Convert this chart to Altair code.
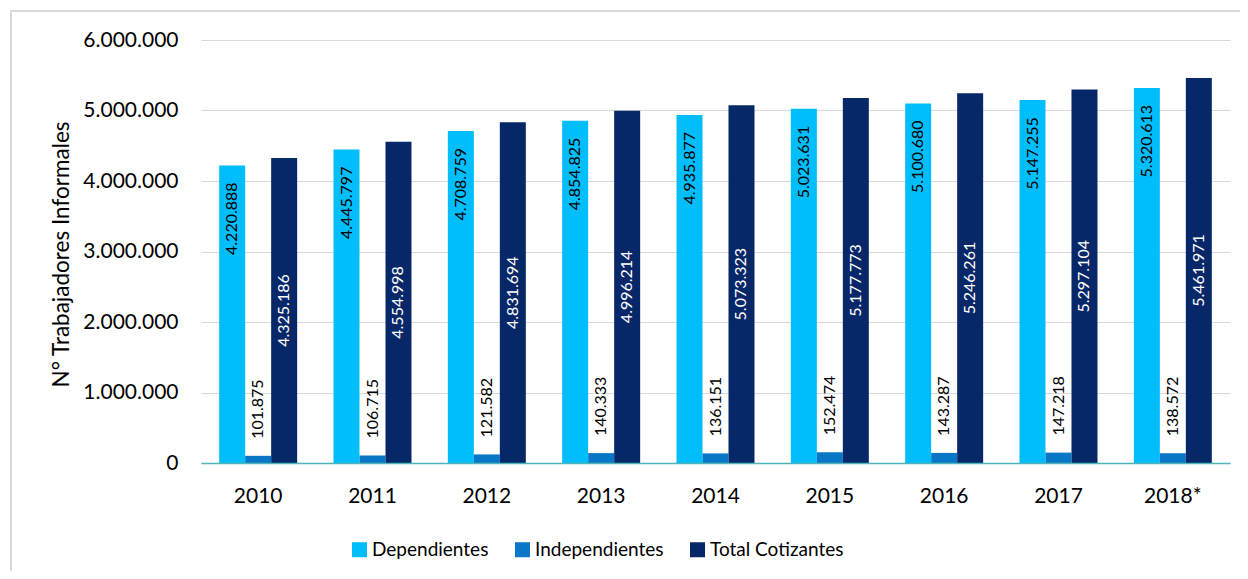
import altair as alt
import pandas as pd

years = ["2010", "2011", "2012", "2013", "2014", "2015", "2016", "2017", "2018*"]
dependientes = [4220888, 4445797, 4708759, 4854825, 4935877, 5023631, 5100680, 5147255, 5320613]
independientes = [101875, 106715, 121582, 140333, 136151, 152474, 143287, 147218, 138572]
total_cotizantes = [4325186, 4554998, 4831694, 4996214, 5073323, 5177773, 5246261, 5297104, 5461971]
series = ["Dependientes", "Independientes", "Total Cotizantes"]
colors = ["#00BDFB", "#0877C7", "#062768"]
y_ticks = [0, 1000000, 2000000, 3000000, 4000000, 5000000, 6000000]

rows = []
for i, yr in enumerate(years):
    for s, vals in zip(series, [dependientes, independientes, total_cotizantes]):
        rows.append({"anio": yr, "serie": s, "valor": vals[i]})
df = pd.DataFrame(rows)

FONT = "Lato"
W, H = 1029, 423

fmt = "replace(format(datum.valor, ','), regexp(',', 'g'), '.')"
base = alt.Chart(df).transform_calculate(label=fmt, mitad="datum.valor / 2")

x_enc = alt.X(
    "anio:N",
    sort=years,
    title=None,
    scale=alt.Scale(domain=years, paddingInner=0.318, paddingOuter=0.159),
    axis=alt.Axis(
        grid=False, ticks=False, domain=True, domainColor="#4FB3BA", domainWidth=1.5,
        labelAngle=0, labelPadding=22, labelFont=FONT, labelFontSize=21,
        labelColor="#000000", zindex=1,
    ),
)
xo_enc = alt.XOffset("serie:N", scale=alt.Scale(domain=series, paddingInner=0, paddingOuter=0))
y_scale = alt.Scale(domain=[0, 6000000], nice=False)
y_axis = alt.Axis(
    values=y_ticks,
    labelExpr="replace(format(datum.value, ','), regexp(',', 'g'), '.')",
    grid=True, gridColor="#D9D9D9", gridWidth=1, domain=False, ticks=False,
    labelPadding=23, labelFont=FONT, labelFontSize=21, labelColor="#000000",
    title="N° Trabajadores Informales", titleFont=FONT, titleFontSize=22.5,
    titleFontWeight="normal", titleColor="#000000",
    titleX=-140, titleY=214, titleAngle=270, titleAlign="center", titleBaseline="middle",
)

bars = base.mark_bar().encode(
    x=x_enc,
    xOffset=xo_enc,
    y=alt.Y("valor:Q", scale=y_scale, axis=y_axis),
    color=alt.Color(
        "serie:N",
        scale=alt.Scale(domain=series, range=colors),
        legend=alt.Legend(
            title=None, orient="none", legendX=149, legendY=500, direction="horizontal",
            symbolType="square", symbolSize=225, symbolStrokeWidth=0, padding=0,
            labelFont=FONT, labelFontSize=19, labelColor="#000000", labelOffset=3,
            columnPadding=24, labelLimit=300,
        ),
    ),
)

t_dep = base.transform_filter(alt.datum.serie == "Dependientes").mark_text(
    angle=270, align="right", baseline="middle", dx=-17, font=FONT, fontSize=16, color="#000000"
).encode(x=x_enc, xOffset=xo_enc, y=alt.Y("valor:Q", scale=y_scale, axis=y_axis), text="label:N")

t_ind = base.transform_filter(alt.datum.serie == "Independientes").mark_text(
    angle=270, align="left", baseline="middle", dx=17, font=FONT, fontSize=16, color="#000000"
).encode(x=x_enc, xOffset=xo_enc, y=alt.Y("valor:Q", scale=y_scale, axis=y_axis), text="label:N")

t_tot = base.transform_filter(alt.datum.serie == "Total Cotizantes").mark_text(
    angle=270, align="center", baseline="middle", font=FONT, fontSize=16, color="#FFFFFF"
).encode(x=x_enc, xOffset=xo_enc, y=alt.Y("mitad:Q", scale=y_scale, axis=y_axis), text="label:N")

frame = alt.Chart(pd.DataFrame({"k": [0]})).mark_rect(
    filled=False, stroke="#D9D9D9", strokeWidth=2
).encode(
    x=alt.value(-190), x2=alt.value(W + 60),
    y=alt.value(-29), y2=alt.value(H + 200),
)

chart = alt.layer(frame, bars, t_dep, t_ind, t_tot).properties(
    width=W, height=H,
    padding={"left": 193, "top": 32, "right": 10, "bottom": 108},
    autosize=alt.AutoSizeParams(type="none"),
    background="#FFFFFF",
).configure_view(stroke=None)

chart.save("out.html", embed_options={"renderer": "svg", "actions": False})
